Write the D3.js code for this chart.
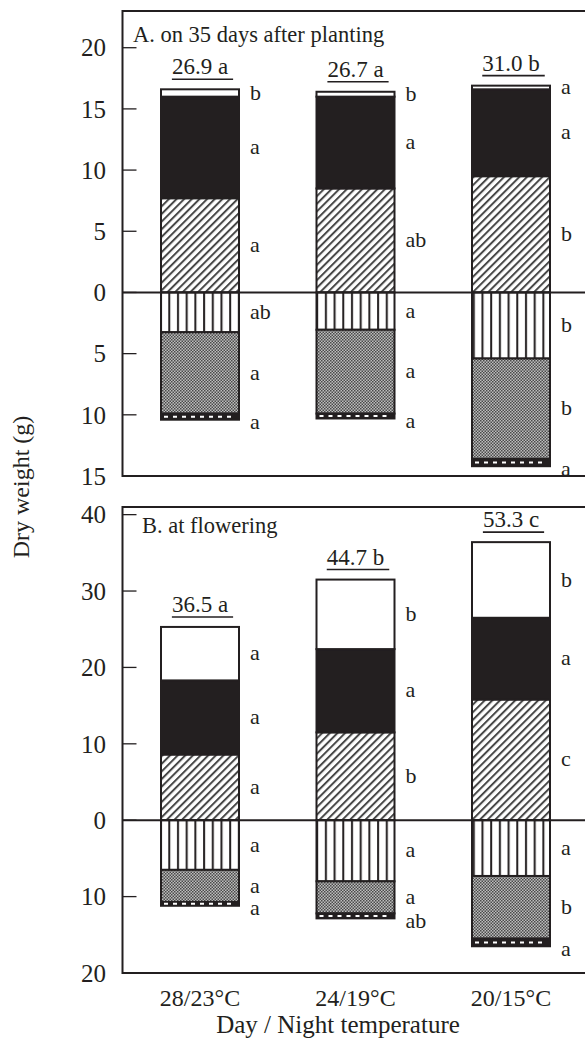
<!DOCTYPE html>
<html>
<head>
<meta charset="utf-8">
<script src="https://cdn.jsdelivr.net/npm/d3@7"></script>
<style>
  body { margin: 0; background: #fff; }
  text { fill: #231f20; }
</style>
</head>
<body>
<div id="chart"></div>
<script>
// ---- data ----
const temps = ["28/23°C", "24/19°C", "20/15°C"];
const segKeys = ["hatch", "black", "white", "stripe", "dot", "base"];

// panel A : 35 days after planting (g)
const hatchA  = [7.7, 8.5, 9.5];
const blackA  = [8.3, 7.5, 7.1];
const whiteA  = [0.6, 0.4, 0.3];
const stripeA = [3.25, 3.05, 5.4];
const dotA    = [6.65, 6.85, 8.2];
const baseA   = [0.5, 0.4, 0.6];
const lettersA = [["a", "a", "b", "ab", "a", "a"], ["ab", "a", "b", "a", "a", "a"], ["b", "a", "a", "b", "b", "a"]];
const totalsA = ["26.9 a", "26.7 a", "31.0 b"];
const ticksA = [20, 15, 10, 5, 0, -5, -10, -15];

// panel B : at flowering (g)
const hatchB  = [8.6, 11.5, 15.8];
const blackB  = [9.7, 10.9, 10.7];
const whiteB  = [7.0, 9.1, 9.9];
const stripeB = [6.5, 8.0, 7.3];
const dotB    = [4.2, 4.2, 8.2];
const baseB   = [0.5, 0.65, 1.0];
const lettersB = [["a", "a", "a", "a", "a", "a"], ["b", "a", "b", "a", "a", "ab"], ["c", "a", "b", "a", "b", "a"]];
const totalsB = ["36.5 a", "44.7 b", "53.3 c"];
const ticksB = [40, 30, 20, 10, 0, -10, -20];

// ---- canvas ----
const W = 585, H = 1043;
const ink = "#231f20";
const font = "Liberation Serif, DejaVu Serif, serif";
const svg = d3.select("#chart").append("svg")
    .attr("width", W)
    .attr("height", H)
    .attr("font-family", font);

const axisX = 122.5;
const barW = 78;
const x = d3.scalePoint().domain(temps).range([200, 511]);

// patterns
const defs = svg.append("defs");
const ph = defs.append("pattern").attr("id", "hatch")
    .attr("patternUnits", "userSpaceOnUse")
    .attr("width", 5.4).attr("height", 5.4)
    .attr("patternTransform", "rotate(45)");
ph.append("rect").attr("width", 5.4).attr("height", 5.4).attr("fill", "#fff");
ph.append("rect").attr("width", 2).attr("height", 5.4).attr("fill", "#474747");

const pv = defs.append("pattern").attr("id", "stripe")
    .attr("patternUnits", "userSpaceOnUse")
    .attr("width", 8.7).attr("height", 10);
pv.append("rect").attr("width", 8.7).attr("height", 10).attr("fill", "#fff");
pv.append("rect").attr("x", 3).attr("width", 2).attr("height", 10).attr("fill", ink);

const pd = defs.append("pattern").attr("id", "dot")
    .attr("patternUnits", "userSpaceOnUse")
    .attr("width", 3).attr("height", 3);
pd.append("rect").attr("width", 3).attr("height", 3).attr("fill", "#bdbdbd");
pd.append("rect").attr("width", 1.5).attr("height", 1.5).attr("fill", "#4a4a4a");
pd.append("rect").attr("x", 1.5).attr("y", 1.5).attr("width", 1.5).attr("height", 1.5).attr("fill", "#4a4a4a");

const fills = {hatch: "url(#hatch)", black: ink, white: "#fff", stripe: "url(#stripe)", dot: "url(#dot)", base: ink};

function drawPanel(opt) {
    const y = d3.scaleLinear().domain(opt.domain).range(opt.range);
    const g = svg.append("g");

    const rows = temps.map((t, i) => ({
        cat: t,
        hatch: opt.hatch[i], black: opt.black[i], white: opt.white[i],
        stripe: -opt.stripe[i], dot: -opt.dot[i], base: -opt.base[i]
    }));
    const series = d3.stack().keys(segKeys).offset(d3.stackOffsetDiverging)(rows);

    // bar segments
    series.forEach((s, k) => {
        g.selectAll(null).data(s).enter().append("rect")
            .attr("x", d => x(d.data.cat) - barW / 2)
            .attr("y", d => y(Math.max(d[0], d[1])))
            .attr("width", barW)
            .attr("height", d => Math.abs(y(d[0]) - y(d[1])))
            .attr("fill", fills[s.key])
            .attr("stroke", ink)
            .attr("stroke-width", 2);

        if (s.key === "base") {
            g.selectAll(null).data(s).enter().append("line")
                .attr("x1", d => x(d.data.cat) - barW / 2 + 3)
                .attr("x2", d => x(d.data.cat) + barW / 2 - 3)
                .attr("y1", d => y((d[0] + d[1]) / 2))
                .attr("y2", d => y((d[0] + d[1]) / 2))
                .attr("stroke", "#fff")
                .attr("stroke-width", 2)
                .attr("stroke-dasharray", "4 5");
        }

        // significance letters (the bottom strip's letter sits just below it)
        g.selectAll(null).data(s).enter().append("text")
            .attr("x", d => x(d.data.cat) + barW / 2 + 11)
            .attr("y", d => s.key === "base" ? y(Math.min(d[0], d[1])) + 3 : y((d[0] + d[1]) / 2))
            .attr("dy", "0.3em")
            .attr("font-size", 22)
            .text((d, i) => opt.letters[i][k]);
    });

    // totals, underlined, above each bar
    const top = series[2];
    top.forEach((d, i) => {
        const t = g.append("text")
            .attr("x", x(d.data.cat))
            .attr("y", y(d[1]) - 15)
            .attr("text-anchor", "middle")
            .attr("font-size", 23)
            .text(opt.totals[i]);
        const bb = t.node().getBBox();
        g.append("line")
            .attr("x1", bb.x).attr("x2", bb.x + bb.width + 5)
            .attr("y1", y(d[1]) - 10).attr("y2", y(d[1]) - 10)
            .attr("stroke", ink).attr("stroke-width", 1.6);
    });

    // zero line
    g.append("line")
        .attr("x1", axisX).attr("x2", W)
        .attr("y1", y(0)).attr("y2", y(0))
        .attr("stroke", ink).attr("stroke-width", 2);

    // frame
    g.append("rect")
        .attr("x", axisX).attr("y", opt.range[1])
        .attr("width", W - axisX + 10).attr("height", opt.range[0] - opt.range[1])
        .attr("fill", "none").attr("stroke", ink).attr("stroke-width", 2);

    // ticks pointing inwards, labels without sign
    g.selectAll(null).data(opt.ticks).enter().append("line")
        .attr("x1", axisX).attr("x2", axisX + 14)
        .attr("y1", d => y(d)).attr("y2", d => y(d))
        .attr("stroke", ink).attr("stroke-width", 1.3);
    g.selectAll(null).data(opt.ticks).enter().append("text")
        .attr("x", 106)
        .attr("y", d => y(d))
        .attr("dy", "0.35em")
        .attr("text-anchor", "end")
        .attr("font-size", 25)
        .text(d => Math.abs(d));

    g.append("text")
        .attr("x", opt.titleX).attr("y", opt.titleY)
        .attr("font-size", 22.5)
        .text(opt.title);
}

drawPanel({
    domain: [-15, 23], range: [476, 11],
    hatch: hatchA, black: blackA, white: whiteA, stripe: stripeA, dot: dotA, base: baseA,
    letters: lettersA, totals: totalsA, ticks: ticksA,
    title: "A. on 35 days after planting", titleX: 133, titleY: 42
});

drawPanel({
    domain: [-20, 41], range: [973, 507],
    hatch: hatchB, black: blackB, white: whiteB, stripe: stripeB, dot: dotB, base: baseB,
    letters: lettersB, totals: totalsB, ticks: ticksB,
    title: "B. at flowering", titleX: 142, titleY: 533
});

// category labels
svg.selectAll(null).data(temps).enter().append("text")
    .attr("x", d => x(d))
    .attr("y", 1006)
    .attr("text-anchor", "middle")
    .attr("font-size", 24)
    .text(d => d);

svg.append("text")
    .attr("x", 338).attr("y", 1033)
    .attr("text-anchor", "middle")
    .attr("font-size", 25)
    .text("Day / Night temperature");

svg.append("text")
    .attr("transform", "translate(29,487) rotate(-90)")
    .attr("text-anchor", "middle")
    .attr("font-size", 24)
    .text("Dry weight  (g)");
</script>
</body>
</html>
